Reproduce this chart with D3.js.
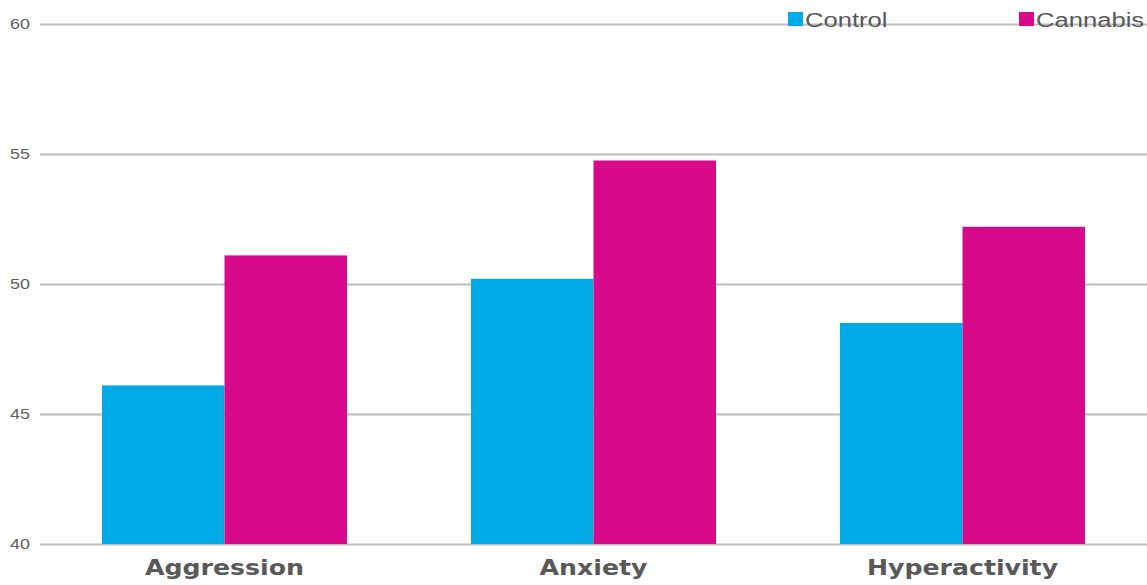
<!DOCTYPE html>
<html>
<head>
<meta charset="utf-8">
<script src="https://cdn.jsdelivr.net/npm/d3@7"></script>
<style>
  body { margin: 0; background: white; }
  svg { display: block; }
</style>
</head>
<body>
<div id="chart"></div>
<script>
// data
var categories = ["Aggression", "Anxiety", "Hyperactivity"];
var seriesNames = ["Control", "Cannabis"];
var controlVals = [46.1, 50.2, 48.5];
var cannabisVals = [51.1, 54.75, 52.2];
var yTicks = [40, 45, 50, 55, 60];
var colors = ["#00aae7", "#d60a8a"];

var width = 1147, height = 585;
// the source picture is stretched sideways, so text is too
var stretch = 1.2;

var svg = d3
  .select("#chart")
  .append("svg")
  .attr("width", width)
  .attr("height", height)
  .style("background-color", "white");

var x = d3
  .scaleBand()
  .domain(categories)
  .range([40, 1147])
  .paddingInner(0.336)
  .paddingOuter(0.168);

var xInner = d3
  .scaleBand()
  .domain(seriesNames)
  .range([0, x.bandwidth()]);

var y = d3.scaleLinear().domain([40, 60]).range([544, 24]);

//Gridlines + tick labels
var yAxis = d3
  .axisLeft(y)
  .tickValues(yTicks)
  .tickSize(-(1147 - 40))
  .tickPadding(10)
  .tickFormat(d3.format("d"));

var gy = svg.append("g").attr("transform", "translate(40,0)").call(yAxis);
gy.select(".domain").remove();
gy.selectAll(".tick line").attr("stroke", "#bcbcbc").attr("stroke-width", 2);
gy.selectAll(".tick text")
  .attr("fill", "#606060")
  .attr("font-family", "Liberation Sans, Arial, sans-serif")
  .attr("font-size", 14)
  .attr("x", 0)
  .attr("transform", "translate(-10,0) scale(1.28,1)");

//Bars
var rows = categories.map(function (c, i) {
  return { cat: c, vals: [controlVals[i], cannabisVals[i]] };
});

var groups = svg
  .selectAll(".grp")
  .data(rows)
  .enter()
  .append("g")
  .attr("class", "grp")
  .attr("transform", function (d) {
    return "translate(" + x(d.cat) + ",0)";
  });

groups
  .selectAll("rect")
  .data(function (d) {
    return d.vals.map(function (v, j) {
      return { name: seriesNames[j], v: v, j: j };
    });
  })
  .enter()
  .append("rect")
  .attr("x", function (d) { return xInner(d.name); })
  .attr("y", function (d) { return y(d.v); })
  .attr("width", xInner.bandwidth())
  .attr("height", function (d) { return y(40) - y(d.v); })
  .attr("fill", function (d) { return colors[d.j]; });

//Category labels
var xAxis = d3.axisBottom(x).tickSize(0).tickPadding(16);
var gx = svg.append("g").attr("transform", "translate(0,544)").call(xAxis);
gx.select(".domain").remove();
gx.selectAll(".tick text")
  .attr("fill", "#595959")
  .attr("font-family", "DejaVu Sans, Verdana, sans-serif")
  .attr("font-weight", "bold")
  .attr("font-size", 21)
  .attr("transform", "scale(" + stretch + ",1)");

//Legend
var legendX = [788, 1019];
var legend = svg
  .selectAll(".leg")
  .data(seriesNames)
  .enter()
  .append("g")
  .attr("class", "leg")
  .attr("transform", function (d, i) {
    return "translate(" + legendX[i] + ",0)";
  });

legend
  .append("rect")
  .attr("x", 0)
  .attr("y", 12)
  .attr("width", 15)
  .attr("height", 14)
  .attr("fill", function (d, i) { return colors[i]; });

legend
  .append("text")
  .attr("transform", "translate(17,27) scale(1.22,1)")
  .attr("fill", "#595959")
  .attr("font-family", "Liberation Sans, Arial, sans-serif")
  .attr("font-size", 21)
  .text(function (d) { return d; });
</script>
</body>
</html>
